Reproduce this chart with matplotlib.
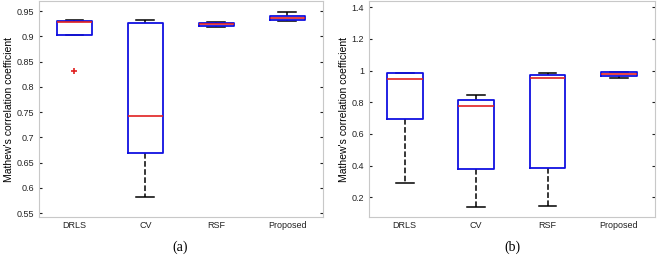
import matplotlib.pyplot as plt

methods = ["DRLS", "CV", "RSF", "Proposed"]

# panel (a)
a_q1 = [0.902, 0.669, 0.921, 0.932]
a_med = [0.928, 0.743, 0.925, 0.937]
a_q3 = [0.930, 0.927, 0.927, 0.941]
a_lo = [0.902, 0.582, 0.919, 0.930]
a_hi = [0.932, 0.933, 0.928, 0.948]
a_fliers = [[0.832], [], [], []]

# panel (b)
b_q1 = [0.695, 0.380, 0.385, 0.965]
b_med = [0.950, 0.775, 0.955, 0.980]
b_q3 = [0.985, 0.815, 0.970, 0.990]
b_lo = [0.290, 0.140, 0.145, 0.955]
b_hi = [0.985, 0.845, 0.985, 0.990]
b_fliers = [[], [], [], []]

plt.rcParams['font.family'] = ['Liberation Sans', 'DejaVu Sans']


def stats(q1, med, q3, lo, hi, fl):
    out = []
    for i in range(len(methods)):
        out.append(dict(q1=q1[i], med=med[i], q3=q3[i], whislo=lo[i],
                        whishi=hi[i], fliers=fl[i], label=methods[i]))
    return out


def draw(ax, st, ylim, yticks, ylabels):
    # box drawn over the caps, like matlab does
    ax.bxp(st, widths=0.5, capwidths=0.25, showfliers=True,
           boxprops=dict(color='#1010e0', linewidth=1.3, zorder=3),
           medianprops=dict(color='#e02020', linewidth=1.2, zorder=4),
           whiskerprops=dict(color='black', linestyle='--', linewidth=1.1),
           capprops=dict(color='black', linewidth=1.1),
           flierprops=dict(marker='+', markeredgecolor='#e02020',
                           markeredgewidth=1.2, markersize=5))
    ax.set_xlim(0.5, 4.5)
    ax.set_ylim(*ylim)
    ax.set_yticks(yticks)
    ax.set_yticklabels(ylabels)
    ax.tick_params(axis='both', direction='in', length=2, labelsize=6.5,
                   colors='#222222', right=True)
    ax.tick_params(axis='x', length=0, pad=3)
    for s in ax.spines.values():
        s.set_color('#c8c8c8')
    ax.set_ylabel("Mathew's correlation coefficient", fontsize=7.5, labelpad=2)


fig = plt.figure(figsize=(6.6, 2.56), dpi=100)
ax1 = fig.add_axes([0.059, 0.152, 0.430, 0.844])
ax2 = fig.add_axes([0.559, 0.152, 0.433, 0.844])

draw(ax1, stats(a_q1, a_med, a_q3, a_lo, a_hi, a_fliers), (0.542, 0.970),
     [0.55, 0.6, 0.65, 0.7, 0.75, 0.8, 0.85, 0.9, 0.95],
     ["0.55", "0.6", "0.65", "0.7", "0.75", "0.8", "0.85", "0.9", "0.95"])
draw(ax2, stats(b_q1, b_med, b_q3, b_lo, b_hi, b_fliers), (0.074, 1.44),
     [0.2, 0.4, 0.6, 0.8, 1.0, 1.2, 1.4],
     ["0.2", "0.4", "0.6", "0.8", "1", "1.2", "1.4"])

fig.text(0.273, 0.02, "(a)", family='Liberation Serif', fontsize=10, ha='center')
fig.text(0.776, 0.02, "(b)", family='Liberation Serif', fontsize=10, ha='center')

fig.savefig("out.png", dpi=100)
